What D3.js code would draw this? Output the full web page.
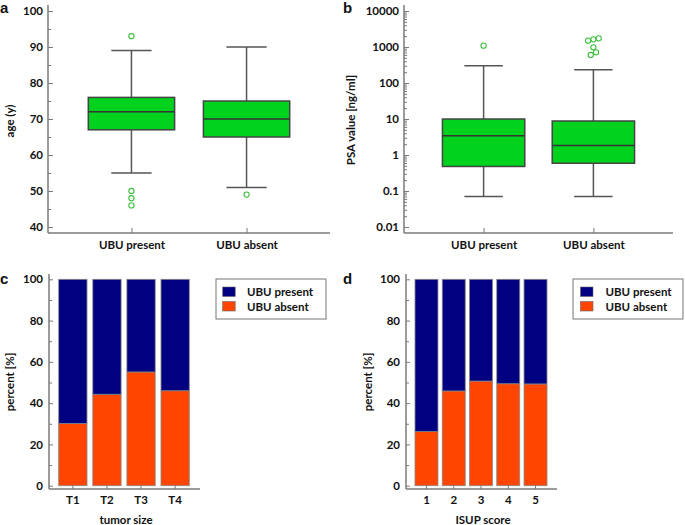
<!DOCTYPE html>
<html><head><meta charset="utf-8">
<script src="https://cdn.jsdelivr.net/npm/d3@7"></script>
<style>
body{margin:0;background:#fff;}
text{font-family:Lato,"Open Sans",sans-serif;font-weight:bold;fill:#111;}
</style></head>
<body><svg id="c" width="685" height="525"></svg>
<script>
// ---- data ----
const boxCats = ["UBU present", "UBU absent"];
// age (panel a): [lowWhisker, q1, median, q3, highWhisker]
const ageStats = [[55, 67, 72, 76, 89], [51, 65, 70, 75, 90]];
const ageOutliers = [[93, 50, 48, 46], [49]];
const ageJitter = [[0, 0, 0, 0], [0]];
const ageTicks = [40, 50, 60, 70, 80, 90, 100];
// PSA (panel b)
const psaStats = [[0.07, 0.48, 3.4, 10, 300], [0.07, 0.59, 1.85, 8.8, 235]];
const psaOutliers = [[1090], [1500, 1630, 1740, 980, 710, 600]];
const psaJitter = [[0], [-1, 0, 1, 0, 0.5, -0.5]];
const psaTicks = [0.01, 0.1, 1, 10, 100, 1000, 10000];
// stacked percentages
const sizeCats = ["T1", "T2", "T3", "T4"];
const sizeAbsent = [30.1, 44.3, 55.1, 46.0];
const isupCats = ["1", "2", "3", "4", "5"];
const isupAbsent = [26.2, 45.9, 50.7, 49.4, 49.3];
const pctTicks = [0, 20, 40, 60, 80, 100];
const seriesNames = ["UBU present", "UBU absent"];

const svg = d3.select("#c");
const AX = "#7a7a7a", GREEN = "#00d21e", NAVY = "#000080", ORANGE = "#ff4500";
const FS = "11.5px";

function panelLetter(t, x, y){
  svg.append("text").attr("x", x).attr("y", y).text(t)
    .style("font-family","Liberation Sans, Arial, sans-serif").style("font-size","15px");
}
function yTitle(t, x, y){
  svg.append("text").attr("transform", `translate(${x},${y}) rotate(-90)`)
    .attr("text-anchor","middle").attr("dy","0.35em").style("font-size",FS).text(t);
}
function styleAxis(g){
  g.select(".domain").remove();
  g.selectAll(".tick line").attr("stroke", AX).attr("stroke-width", 1);
  g.selectAll(".tick text").style("font-size", FS).style("font-family","Lato,sans-serif").style("font-weight","bold").attr("fill","#111");
}

function boxPanel(o){
  const x = d3.scalePoint().domain(boxCats).range([o.x0, o.x1]).padding(0.725);
  const y = o.y;
  const step = x.step();
  const g = svg.append("g");
  // minor ticks
  g.append("g").attr("transform",`translate(${o.x0},0)`)
    .call(d3.axisLeft(y).tickValues(o.minor).tickSize(-3).tickFormat(""))
    .call(styleAxis);
  g.append("g").attr("transform",`translate(${o.x0},0)`)
    .call(d3.axisLeft(y).tickValues(o.ticks).tickSize(-5).tickPadding(5).tickFormat(o.fmt))
    .call(styleAxis);
  g.append("g").attr("transform",`translate(0,${o.base})`)
    .call(d3.axisBottom(x).tickSize(-5).tickPadding(8))
    .call(styleAxis);
  g.append("line").attr("x1",o.x0).attr("x2",o.x0).attr("y1",o.top).attr("y2",o.base).attr("stroke",AX).attr("stroke-width",1.5);
  g.append("line").attr("x1",o.x0).attr("x2",o.x1).attr("y1",o.base).attr("y2",o.base).attr("stroke",AX).attr("stroke-width",1.5);
  const bw = step*0.75, cw = step*0.35;
  boxCats.forEach((c,i)=>{
    const s = o.stats[i], cx = x(c);
    const gg = g.append("g");
    gg.append("line").attr("x1",cx).attr("x2",cx).attr("y1",y(s[0])).attr("y2",y(s[1])).attr("stroke","#555").attr("stroke-width",1.5);
    gg.append("line").attr("x1",cx).attr("x2",cx).attr("y1",y(s[3])).attr("y2",y(s[4])).attr("stroke","#555").attr("stroke-width",1.5);
    [s[0], s[4]].forEach(v=>gg.append("line").attr("x1",cx-cw/2).attr("x2",cx+cw/2).attr("y1",y(v)).attr("y2",y(v)).attr("stroke","#555").attr("stroke-width",1.5));
    gg.append("rect").attr("x",cx-bw/2).attr("width",bw).attr("y",y(s[3])).attr("height",y(s[1])-y(s[3]))
      .attr("fill",GREEN).attr("stroke","#444").attr("stroke-width",1.5);
    gg.append("line").attr("x1",cx-bw/2).attr("x2",cx+bw/2).attr("y1",y(s[2])).attr("y2",y(s[2])).attr("stroke","#333").attr("stroke-width",1.5);
    o.outliers[i].forEach((v,j)=>{
      gg.append("circle").attr("cx",cx + o.jitter[i][j]*5.3).attr("cy",y(v)).attr("r",2.6)
        .attr("fill","none").attr("stroke","#3cbf3c").attr("stroke-width",1.1);
    });
  });
}

// Panel a
const yA = d3.scaleLinear().domain([40,100]).range([227,11]);
boxPanel({x0:48, x1:330, base:233, top:5, y:yA, ticks:ageTicks,
  minor:d3.range(45,100,10), fmt:d3.format("d"), stats:ageStats, outliers:ageOutliers, jitter:ageJitter});
yTitle("age (y)", 10, 121);
panelLetter("a", 0, 13);

// Panel b
const yB = d3.scaleLog().domain([0.01,10000]).range([227,11]);
const minorB = [];
for (let e=-2; e<4; e++) for (let m=2; m<10; m++) minorB.push(m*Math.pow(10,e));
boxPanel({x0:404, x1:673, base:233, top:5, y:yB, ticks:psaTicks,
  minor:minorB, fmt:d=>String(d), stats:psaStats, outliers:psaOutliers, jitter:psaJitter});
yTitle("PSA value [ng/ml]", 351, 120);
panelLetter("b", 343, 13);

function stackPanel(o){
  const x = d3.scaleBand().domain(o.cats).range([o.x0, o.x1]).paddingInner(o.pi).paddingOuter(o.po);
  const y = d3.scaleLinear().domain([0,100]).range([485.7, 279.3]);
  const g = svg.append("g");
  g.append("g").attr("transform",`translate(${o.x0},0)`)
    .call(d3.axisLeft(y).tickValues(d3.range(10,100,20)).tickSize(-3).tickFormat(""))
    .call(styleAxis);
  g.append("g").attr("transform",`translate(${o.x0},0)`)
    .call(d3.axisLeft(y).tickValues(pctTicks).tickSize(-4).tickPadding(6))
    .call(styleAxis);
  const data = o.cats.map((c,i)=>({cat:c, absent:o.absent[i], present:100-o.absent[i]}));
  const stack = d3.stack().keys(["absent","present"])(data);
  const cols = {absent:ORANGE, present:NAVY};
  stack.forEach(layer=>{
    g.append("g").selectAll("rect").data(layer).join("rect")
      .attr("x",d=>x(d.data.cat)).attr("width",x.bandwidth())
      .attr("y",d=>y(d[1])).attr("height",d=>y(d[0])-y(d[1]))
      .attr("fill",cols[layer.key]).attr("stroke","#888").attr("stroke-width",0.8);
  });
  g.append("g").attr("transform",`translate(0,489)`)
    .call(d3.axisBottom(x).tickSize(-4).tickPadding(7))
    .call(styleAxis);
  g.append("line").attr("x1",o.x0).attr("x2",o.x0).attr("y1",274).attr("y2",489).attr("stroke",AX).attr("stroke-width",1.5);
  g.append("line").attr("x1",o.x0).attr("x2",o.x1+1).attr("y1",489).attr("y2",489).attr("stroke",AX).attr("stroke-width",1.5);
  svg.append("text").attr("x",(o.x0+o.x1)/2+2).attr("y",525).attr("text-anchor","middle").attr("dy","-0.1em").style("font-size",FS).text(o.title);
  // legend
  const L = svg.append("g").attr("transform",`translate(${o.lx},279)`);
  L.append("rect").attr("width",110).attr("height",40).attr("fill","#fff").attr("stroke","#777").attr("stroke-width",1);
  [[seriesNames[0],NAVY],[seriesNames[1],ORANGE]].forEach((d,i)=>{
    L.append("rect").attr("x",o.sw).attr("y",8+i*14.5).attr("width",12.5).attr("height",9.5).attr("fill",d[1]).attr("stroke","#666").attr("stroke-width",0.6);
    L.append("text").attr("x",o.tx).attr("y",13+i*14.5).attr("dy","0.35em").style("font-size",FS).text(d[0]);
  });
}

stackPanel({cats:sizeCats, absent:sizeAbsent, x0:49, x1:199, pi:0.17, po:0.285, title:"tumor size", lx:216, sw:6.7, tx:31});
yTitle("percent [%]", 10, 382);
panelLetter("c", 0, 284);

stackPanel({cats:isupCats, absent:isupAbsent, x0:406, x1:556, pi:0.157, po:0.33, title:"ISUP score", lx:573, sw:7.5, tx:32.5});
yTitle("percent [%]", 368, 382);
panelLetter("d", 343, 284);
</script></body></html>
